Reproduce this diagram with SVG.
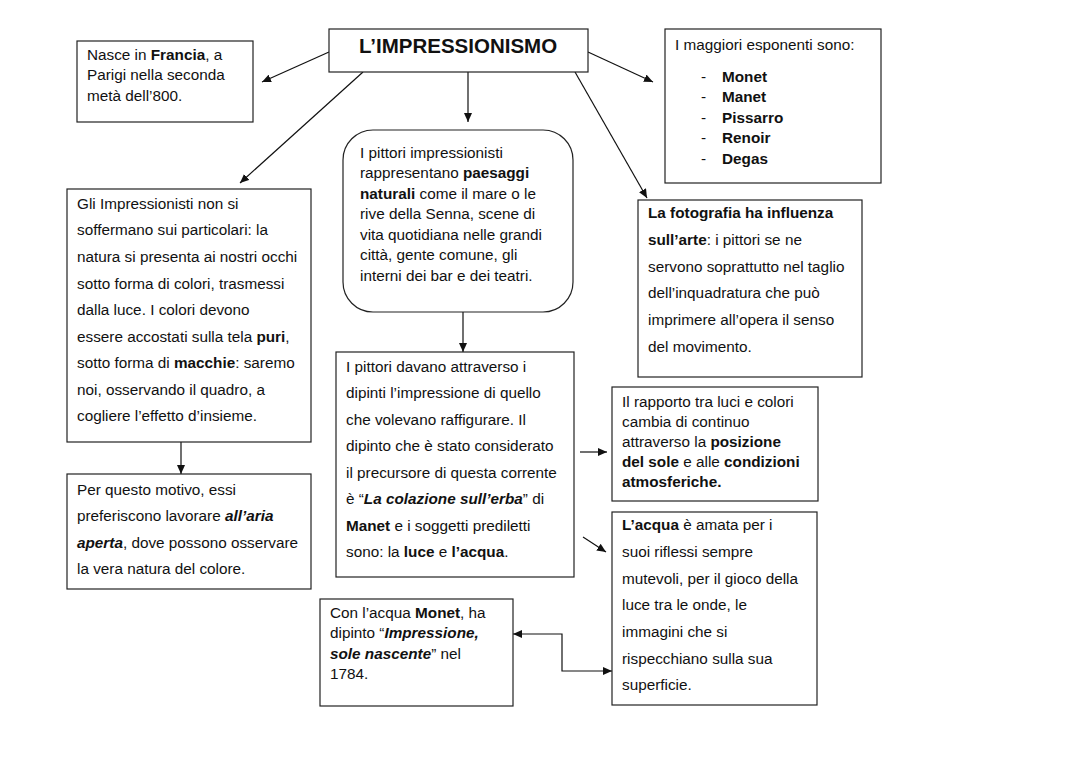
<svg xmlns="http://www.w3.org/2000/svg" width="1080" height="763" viewBox="0 0 1080 763">
<style>
.box{fill:#fff;stroke:#222;stroke-width:1.2}
.t{font-family:"Liberation Sans",Arial,sans-serif;font-size:15.3px;fill:#111}
.b{font-weight:bold}
.bi{font-weight:bold;font-style:italic}
.title{font-family:"Liberation Sans",Arial,sans-serif;font-size:20.5px;font-weight:bold;fill:#111}
.c{fill:none;stroke:#111;stroke-width:1.2}
</style>
<defs>
<marker id="ah" markerUnits="userSpaceOnUse" markerWidth="9" markerHeight="8" refX="9" refY="4" orient="auto-start-reverse" viewBox="0 0 9 8">
<path d="M0,0 L9,4 L0,8 z" fill="#111"/>
</marker>
</defs>
<rect width="1080" height="763" fill="#fff"/>
<g id="connectors">
<line class="c" x1="329" y1="52" x2="262" y2="82" marker-end="url(#ah)"/>
<line class="c" x1="363" y1="72" x2="240" y2="183" marker-end="url(#ah)"/>
<line class="c" x1="468" y1="72" x2="468" y2="122" marker-end="url(#ah)"/>
<line class="c" x1="588" y1="52" x2="653" y2="82" marker-end="url(#ah)"/>
<line class="c" x1="575" y1="72" x2="647" y2="198" marker-end="url(#ah)"/>
<line class="c" x1="463" y1="312" x2="463" y2="352" marker-end="url(#ah)"/>
<line class="c" x1="181" y1="442" x2="181" y2="474" marker-end="url(#ah)"/>
<line class="c" x1="580" y1="452" x2="607" y2="452" marker-end="url(#ah)"/>
<line class="c" x1="583" y1="537" x2="606" y2="552" marker-end="url(#ah)"/>
<polyline class="c" points="513,634 562,634 562,671 612,671" marker-start="url(#ah)" marker-end="url(#ah)"/>
</g>
<g id="title">
<rect class="box" x="329" y="29" width="259" height="43"/>
<text class="title" x="458" y="53" text-anchor="middle">L’IMPRESSIONISMO</text>
</g>
<g id="nasce">
<rect class="box" x="77" y="41" width="176" height="81"/>
<text class="t" x="87" y="60">Nasce in <tspan class="b">Francia</tspan>, a</text>
<text class="t" x="87" y="80">Parigi nella seconda</text>
<text class="t" x="87" y="101">metà dell’800.</text>
</g>
<g id="esponenti">
<rect class="box" x="665" y="29" width="216" height="154"/>
<text class="t" x="675" y="50">I maggiori esponenti sono:</text>
<text class="t" x="701" y="82">-</text><text class="t b" x="722" y="82">Monet</text>
<text class="t" x="701" y="102">-</text><text class="t b" x="722" y="102">Manet</text>
<text class="t" x="701" y="123">-</text><text class="t b" x="722" y="123">Pissarro</text>
<text class="t" x="701" y="143">-</text><text class="t b" x="722" y="143">Renoir</text>
<text class="t" x="701" y="164">-</text><text class="t b" x="722" y="164">Degas</text>
</g>
<g id="pittori">
<rect class="box" x="343" y="130" width="230" height="182" rx="30" ry="30"/>
<text class="t" x="360" y="158">I pittori impressionisti</text>
<text class="t" x="360" y="178">rappresentano <tspan class="b">paesaggi</tspan></text>
<text class="t" x="360" y="199"><tspan class="b">naturali</tspan> come il mare o le</text>
<text class="t" x="360" y="219">rive della Senna, scene di</text>
<text class="t" x="360" y="240">vita quotidiana nelle grandi</text>
<text class="t" x="360" y="260">città, gente comune, gli</text>
<text class="t" x="360" y="281">interni dei bar e dei teatri.</text>
</g>
<g id="fotografia">
<rect class="box" x="638" y="200" width="224" height="177"/>
<text class="t b" x="648" y="218">La fotografia ha influenza</text>
<text class="t" x="648" y="245"><tspan class="b">sull’arte</tspan>: i pittori se ne</text>
<text class="t" x="648" y="272">servono soprattutto nel taglio</text>
<text class="t" x="648" y="298">dell’inquadratura che può</text>
<text class="t" x="648" y="325">imprimere all’opera il senso</text>
<text class="t" x="648" y="352">del movimento.</text>
</g>
<g id="particolari">
<rect class="box" x="67" y="189" width="244" height="253"/>
<text class="t" x="77" y="209">Gli Impressionisti non si</text>
<text class="t" x="77" y="235">soffermano sui particolari: la</text>
<text class="t" x="77" y="262">natura si presenta ai nostri occhi</text>
<text class="t" x="77" y="289">sotto forma di colori, trasmessi</text>
<text class="t" x="77" y="315">dalla luce. I colori devono</text>
<text class="t" x="77" y="342">essere accostati sulla tela <tspan class="b">puri</tspan>,</text>
<text class="t" x="77" y="368">sotto forma di <tspan class="b">macchie</tspan>: saremo</text>
<text class="t" x="77" y="395">noi, osservando il quadro, a</text>
<text class="t" x="77" y="421">cogliere l’effetto d’insieme.</text>
</g>
<g id="ariaaperta">
<rect class="box" x="67" y="474" width="244" height="115"/>
<text class="t" x="77" y="495">Per questo motivo, essi</text>
<text class="t" x="77" y="521">preferiscono lavorare <tspan class="bi">all’aria</tspan></text>
<text class="t" x="77" y="548"><tspan class="bi">aperta</tspan>, dove possono osservare</text>
<text class="t" x="77" y="574">la vera natura del colore.</text>
</g>
<g id="impressione">
<rect class="box" x="336" y="352" width="238" height="225"/>
<text class="t" x="346" y="372">I pittori davano attraverso i</text>
<text class="t" x="346" y="398">dipinti l’impressione di quello</text>
<text class="t" x="346" y="425">che volevano raffigurare. Il</text>
<text class="t" x="346" y="451">dipinto che è stato considerato</text>
<text class="t" x="346" y="478">il precursore di questa corrente</text>
<text class="t" x="346" y="504">è “<tspan class="bi">La colazione sull’erba</tspan>” di</text>
<text class="t" x="346" y="531"><tspan class="b">Manet</tspan> e i soggetti prediletti</text>
<text class="t" x="346" y="557">sono: la <tspan class="b">luce</tspan> e <tspan class="b">l’acqua</tspan>.</text>
</g>
<g id="rapporto">
<rect class="box" x="612" y="387" width="206" height="114"/>
<text class="t" x="622" y="407">Il rapporto tra luci e colori</text>
<text class="t" x="622" y="427">cambia di continuo</text>
<text class="t" x="622" y="447">attraverso la <tspan class="b">posizione</tspan></text>
<text class="t" x="622" y="467"><tspan class="b">del sole</tspan> e alle <tspan class="b">condizioni</tspan></text>
<text class="t b" x="622" y="487">atmosferiche.</text>
</g>
<g id="acqua">
<rect class="box" x="612" y="512" width="205" height="193"/>
<text class="t" x="622" y="530"><tspan class="b">L’acqua</tspan> è amata per i</text>
<text class="t" x="622" y="557">suoi riflessi sempre</text>
<text class="t" x="622" y="584">mutevoli, per il gioco della</text>
<text class="t" x="622" y="610">luce tra le onde, le</text>
<text class="t" x="622" y="637">immagini che si</text>
<text class="t" x="622" y="664">rispecchiano sulla sua</text>
<text class="t" x="622" y="690">superficie.</text>
</g>
<g id="monet">
<rect class="box" x="320" y="599" width="193" height="107"/>
<text class="t" x="330" y="618">Con l’acqua <tspan class="b">Monet</tspan>, ha</text>
<text class="t" x="330" y="638">dipinto “<tspan class="bi">Impressione,</tspan></text>
<text class="t" x="330" y="659"><tspan class="bi">sole nascente</tspan>” nel</text>
<text class="t" x="330" y="679">1784.</text>
</g>
</svg>
